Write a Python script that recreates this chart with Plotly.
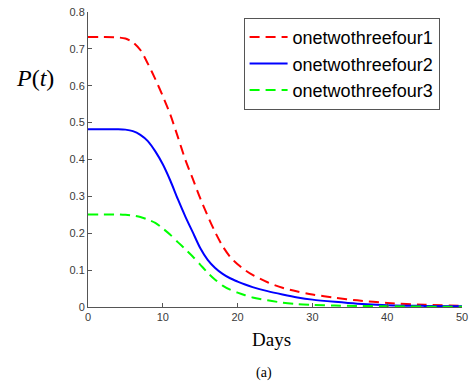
import plotly.graph_objects as go

days = [0, 2, 4, 5, 6, 7, 8, 9, 10, 11, 12, 13, 14, 15, 16, 17, 18, 19, 20, 21, 22, 24, 26, 28, 30, 33, 36, 40, 45, 50]
series1 = [0.732, 0.732, 0.731, 0.728, 0.718, 0.697, 0.660, 0.618, 0.572, 0.522, 0.462, 0.400, 0.348, 0.295, 0.247, 0.203, 0.165, 0.136, 0.116, 0.100, 0.087, 0.067, 0.052, 0.042, 0.034, 0.025, 0.018, 0.011, 0.006, 0.003]
series2 = [0.482, 0.482, 0.482, 0.481, 0.477, 0.467, 0.450, 0.422, 0.387, 0.343, 0.293, 0.246, 0.203, 0.160, 0.128, 0.106, 0.090, 0.078, 0.069, 0.061, 0.054, 0.043, 0.034, 0.026, 0.020, 0.014, 0.009, 0.005, 0.003, 0.002]
series3 = [0.251, 0.251, 0.251, 0.250, 0.248, 0.244, 0.237, 0.228, 0.213, 0.196, 0.176, 0.157, 0.137, 0.115, 0.093, 0.074, 0.058, 0.047, 0.039, 0.032, 0.026, 0.018, 0.012, 0.008, 0.006, 0.004, 0.003, 0.002, 0.001, 0.001]
names = ["onetwothreefour1", "onetwothreefour2", "onetwothreefour3"]
colors = ["#FF0000", "#0000FF", "#00FF00"]
dashes = ["10px,6px", "solid", "10px,6px"]

fig = go.Figure()
for i, ys in enumerate([series1, series2, series3]):
    fig.add_trace(go.Scatter(
        x=days, y=ys, mode="lines", name=names[i],
        line=dict(color=colors[i], width=2, dash=dashes[i], shape="spline", smoothing=0.8),
    ))

axis_common = dict(
    showline=True, linecolor="#555555", linewidth=1, ticks="inside", ticklen=4,
    tickcolor="#555555", showgrid=False, zeroline=False, mirror=False,
    ticklabeloverflow="allow",
    tickfont=dict(family="Liberation Sans, Arial, sans-serif", size=11, color="#3a3a3a"),
)
fig.update_xaxes(range=[0, 50], dtick=10, **axis_common)
fig.update_yaxes(range=[0, 0.8], dtick=0.1, tickformat=".1~f", **axis_common)

fig.update_layout(
    width=474, height=383,
    margin=dict(l=88, r=6, t=9, b=76),
    paper_bgcolor="white", plot_bgcolor="white",
    showlegend=True,
    legend=dict(
        x=0.416, y=0.98, xanchor="left", yanchor="top",
        bgcolor="white", bordercolor="#555555", borderwidth=1,
        font=dict(family="Liberation Sans, Arial, sans-serif", size=18, color="black"),
        itemwidth=38, tracegroupgap=0,
    ),
    annotations=[
        dict(text="<i>P</i>(<i>t</i>)", xref="paper", yref="paper", x=-0.085, y=0.775,
             xanchor="right", yanchor="middle", showarrow=False,
             font=dict(family="Liberation Serif, Times New Roman, serif", size=24, color="black")),
        dict(text="Days", xref="paper", yref="paper", x=0.49, y=-0.11,
             xanchor="center", yanchor="middle", showarrow=False,
             font=dict(family="Liberation Serif, Times New Roman, serif", size=19, color="black")),
        dict(text="(a)", xref="paper", yref="paper", x=0.47, y=-0.225,
             xanchor="center", yanchor="middle", showarrow=False,
             font=dict(family="Liberation Serif, Times New Roman, serif", size=14, color="black")),
    ],
)

fig.write_html("out.html", config={"displayModeBar": False},
               post_script="document.body.style.margin='0';document.body.style.overflow='hidden';")
